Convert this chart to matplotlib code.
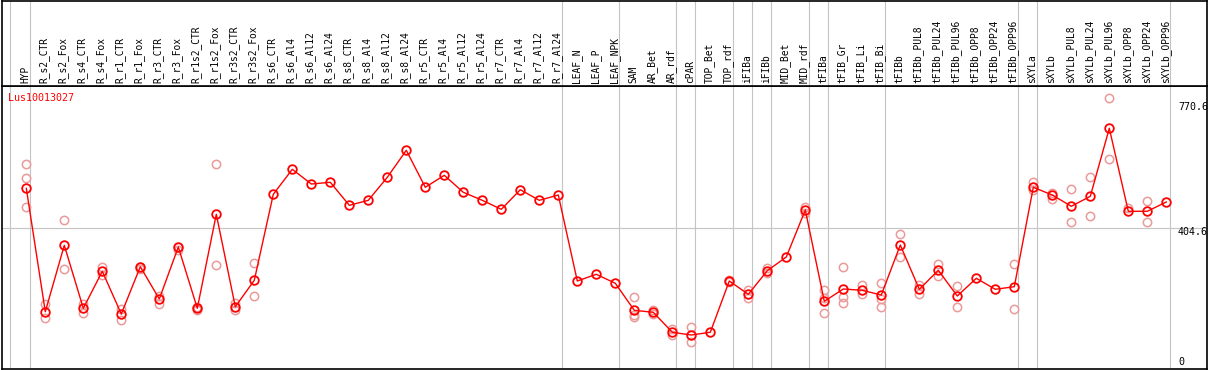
import matplotlib
matplotlib.use("Agg")
import matplotlib.pyplot as plt
import matplotlib.transforms as mtransforms

samples = ["HYP", "R_s2_CTR", "R_s2_Fox", "R_s4_CTR", "R_s4_Fox", "R_r1_CTR", "R_r1_Fox",
           "R_r3_CTR", "R_r3_Fox", "R_r1s2_CTR", "R_r1s2_Fox", "R_r3s2_CTR", "R_r3s2_Fox",
           "R_s6_CTR", "R_s6_Al4", "R_s6_Al12", "R_s6_Al24", "R_s8_CTR", "R_s8_Al4",
           "R_s8_Al12", "R_s8_Al24", "R_r5_CTR", "R_r5_Al4", "R_r5_Al12", "R_r5_Al24",
           "R_r7_CTR", "R_r7_Al4", "R_r7_Al12", "R_r7_Al24", "LEAF_N", "LEAF_P", "LEAF_NPK",
           "SAM", "AR_Bet", "AR_rdf", "cPAR", "TOP_Bet", "TOP_rdf", "iFIBa", "iFIBb",
           "MID_Bet", "MID_rdf", "tFIBa", "tFIB_Gr", "tFIB_Li", "tFIB_Bi", "tFIBb",
           "tFIBb_PUL8", "tFIBb_PUL24", "tFIBb_PUL96", "tFIBb_OPP8", "tFIBb_OPP24",
           "tFIBb_OPP96", "sXYLa", "sXYLb", "sXYLb_PUL8", "sXYLb_PUL24", "sXYLb_PUL96",
           "sXYLb_OPP8", "sXYLb_OPP24", "sXYLb_OPP96"]

means = [521.6, 160.8, 355.0, 170.8, 278.9, 154.1, 292.4, 198.0, 350.0, 170.8, 445.6,
         175.4, 252.6, 504.1, 577.2, 534.2, 539.2, 471.9, 486.5, 553.8, 632.7, 524.6,
         559.6, 509.9, 486.5, 460.2, 517.5, 486.5, 502.0, 250.6, 270.2, 243.9, 164.9,
         159.1, 100.6, 92.7, 100.6, 250.6, 211.7, 280.7, 320.8, 458.2, 191.2, 227.2,
         223.4, 209.6, 355.8, 226.3, 281.9, 206.7, 258.5, 226.3, 233.9, 524.6, 502.0,
         469.0, 498.2, 697.1, 454.4, 454.4, 481.6]

replicates = [
    [591.8, 550.9, 467.8], [183.3, 141.5], [428.9, 284.8], [183.3, 157.9], [292.4, 267.3],
    [168.7, 136.5], [292.4, 284.8], [207.6, 184.2], [350.0, 341.2], [175.4, 165.8],
    [591.8, 297.4], [187.1, 165.8], [302.3, 206.7],
    [], [], [], [], [], [], [], [], [], [], [], [], [], [], [], [], [], [], [],
    [203.8, 151.2, 146.2], [165.8, 154.1], [110.7, 93.3], [116.7, 71.3], [],
    [253.5, 247.7], [224.3, 200.0], [287.7, 274.9], [], [467.8, 448.5],
    [224.3, 200.0, 157.0], [291.5, 204.7, 187.1], [238.9, 211.7], [243.9, 198.0, 175.4],
    [388.0, 319.9], [238.9, 213.5], [299.4, 266.1], [236.0, 173.7], [], [],
    [300.3, 167.8], [540.1, 516.7], [508.8, 491.2], [519.6, 422.2], [553.8, 439.8],
    [784.8, 607.3], [463.2], [483.6, 423.1], [],
]

gene_id = "Lus10013027"
ytick_values = [770.6, 404.6, 0]
ytick_labels = ["770.6", "404.6", "0"]
group_bounds = [-0.85, 0.21, 28.22, 31.21, 34.21, 35.21, 37.21, 38.21, 39.21, 41.21,
                42.21, 45.21, 52.21, 53.21, 60.2]

W, H = 1209, 370
DPI = 100
fig = plt.figure(figsize=(W / DPI, H / DPI), dpi=DPI)

x0_px, x1_px = 2, 1207
step = 19.0
first_px = 26.3
xlim = ((x0_px - first_px) / step, (x1_px - first_px) / step)

# main plot axes
ax_bot_px, ax_top_px = 368.5, 85.5
ax = fig.add_axes([x0_px / W, (H - ax_bot_px) / H, (x1_px - x0_px) / W,
                   (ax_bot_px - ax_top_px) / H])
scale = 0.342  # px per unit
zero_px = 366.7
ylim = (-(ax_bot_px - zero_px) / scale, (zero_px - ax_top_px) / scale)
ax.set_xlim(*xlim)
ax.set_ylim(*ylim)
ax.set_xticks([])
ax.set_yticks([])
for s in ax.spines.values():
    s.set_color("black")
    s.set_linewidth(1.2)

# header axes
hx = fig.add_axes([x0_px / W, (H - ax_top_px) / H, (x1_px - x0_px) / W,
                   (ax_top_px - 0.5) / H])
hx.set_xlim(*xlim)
hx.set_ylim(0, 1)
hx.set_xticks([])
hx.set_yticks([])
for s in hx.spines.values():
    s.set_color("black")
    s.set_linewidth(1.2)

grid_c = "#c4c4c4"
for b in group_bounds:
    ax.axvline(b, color=grid_c, lw=0.8, zorder=0)
    hx.axvline(b, color=grid_c, lw=0.8, zorder=0)
ax.axhline(404.6, color=grid_c, lw=0.8, zorder=0)

mono = "DejaVu Sans Mono"
xs = list(range(len(samples)))
for i, name in enumerate(samples):
    hx.text(i - 0.05, 0.03, name, rotation=90, ha="center", va="bottom",
            fontsize=6.9, family=mono, color="black")

# replicates
rx, ry = [], []
for i, reps in enumerate(replicates):
    for v in reps:
        rx.append(i)
        ry.append(v)
ax.plot(rx, ry, linestyle="none", marker="o", ms=6, mfc="none", mec="#eb9a9a",
        mew=1.1, zorder=2)

ax.plot(xs, means, color="red", lw=1.0, marker="o", ms=6.2, mfc="none", mec="red",
        mew=1.3, zorder=3)

ax.text((8 - x0_px) / (x1_px - x0_px), (ax_bot_px - 98) / (ax_bot_px - ax_top_px),
        gene_id, transform=ax.transAxes, ha="left", va="center", fontsize=7.2,
        family=mono, color="red")

trans = mtransforms.blended_transform_factory(ax.transAxes, ax.transData)
lx = (1178 - x0_px) / (x1_px - x0_px)
for v, lab in zip(ytick_values, ytick_labels):
    if v == 0:
        ax.text(lx, 0, lab, transform=trans, ha="left", va="bottom", fontsize=7.2,
                family=mono, color="black")
    else:
        off = mtransforms.offset_copy(trans, fig=fig, x=0, y=-3.4, units="dots")
        ax.text(lx, v, lab, transform=off, ha="left", va="center", fontsize=7.2,
                family=mono, color="black")

fig.savefig("out.png", dpi=DPI, facecolor="white")
